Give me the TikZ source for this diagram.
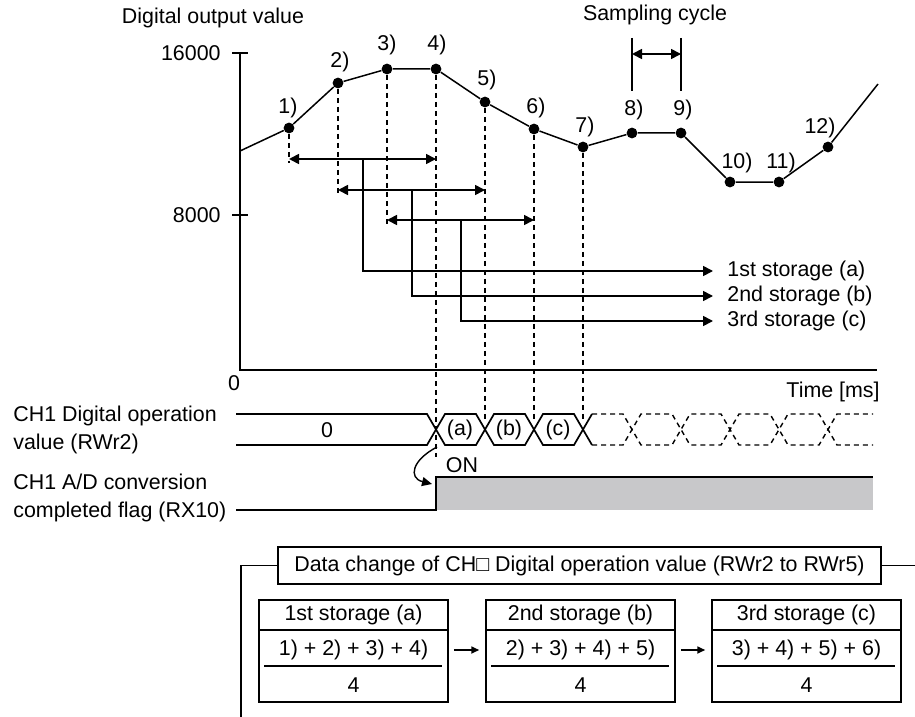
\documentclass[tikz,border=0pt]{standalone}
\usepackage{fontspec}
\setmainfont{Liberation Sans}
\usepackage{xcolor}
\usetikzlibrary{arrows.meta,positioning,calc}
\definecolor{flaggray}{RGB}{200,200,202}

\begin{document}
\begin{tikzpicture}[
  x=0.5pt, y=-0.5pt,
  font=\fontsize{10.7}{14}\selectfont,
  txt/.style={inner sep=0pt},
  dot/.style={circle, fill=black, inner sep=0pt, minimum size=5.4pt},
  ln/.style={line width=0.85pt},
  guide/.style={line width=0.7pt, dash pattern=on 2.5pt off 2pt},
  ar/.style={-{Triangle[length=5pt, width=5pt]}, line width=0.85pt},
  dar/.style={{Triangle[length=5pt, width=5pt]}-{Triangle[length=5pt, width=5pt]}, line width=0.85pt},
  sar/.style={-{Triangle[length=4pt, width=3.5pt]}, line width=0.8pt},
  store/.style={inner xsep=7pt, inner ysep=0pt, anchor=west},
  head/.style={draw, line width=0.75pt, minimum width=94.5pt, minimum height=15pt, inner sep=0pt},
  body/.style={draw, line width=0.75pt, minimum width=94.5pt, minimum height=36pt, inner sep=0pt},
]
\useasboundingbox (0,0) rectangle (915,717);

% axes
\coordinate (o) at (240,370);
\draw[ln] (240,53) -- (o) -- (877,370);
\draw[ln] (232,53) -- (248,53);
\draw[ln] (232,215) -- (248,215);
\node[txt, anchor=east] (y16) at (221,53) {16000};
\node[txt, anchor=east] (y8) at (221,215) {8000};
\node[txt] (y0) at (234,383) {0};
\node[txt] (ytitle) at (213,18) {Digital output value};
\node[txt, anchor=east] (xtitle) at (880,392) {Time [ms]};

% sampled values
\coordinate (p0) at (240,151);
\node[dot] (p1) at (289,128) {};
\node[dot] (p2) at (338,83) {};
\node[dot] (p3) at (387,69) {};
\node[dot] (p4) at (436,69) {};
\node[dot] (p5) at (485,102) {};
\node[dot] (p6) at (534,129) {};
\node[dot] (p7) at (583,147) {};
\node[dot] (p8) at (632,133) {};
\node[dot] (p9) at (681,133) {};
\node[dot] (p10) at (730,182) {};
\node[dot] (p11) at (779,182) {};
\node[dot] (p12) at (828,147) {};
\coordinate (pe) at (878,84);
\draw[line width=0.75pt] (p0) -- (p1) -- (p2) -- (p3) -- (p4) -- (p5) -- (p6) -- (p7)
  -- (p8) -- (p9) -- (p10) -- (p11) -- (p12) -- (pe);
\node[txt] (l1) at (288,108) {1)};
\node[txt] (l2) at (340,62) {2)};
\node[txt] (l3) at (387,45) {3)};
\node[txt] (l4) at (437,45) {4)};
\node[txt] (l5) at (487,80) {5)};
\node[txt] (l6) at (536,108) {6)};
\node[txt] (l7) at (585,127) {7)};
\node[txt] (l8) at (634,110) {8)};
\node[txt] (l9) at (683,110) {9)};
\node[txt] (l10) at (737,163) {10)};
\node[txt] (l11) at (781,163) {11)};
\node[txt] (l12) at (820,128) {12)};

% sampling cycle
\node[txt] (scyc) at (655,15) {Sampling cycle};
\draw[ln] (p8 |- 0,38) -- (p8 |- 0,91);
\draw[ln] (p9 |- 0,38) -- (p9 |- 0,91);
\draw[dar] (p8 |- 0,54) -- (p9 |- 0,54);

% dashed guides
\draw[guide] (p1) -- (p1 |- 0,163);
\draw[guide] (p2) -- (p2 |- 0,194);
\draw[guide] (p3) -- (p3 |- 0,225);
\draw[guide] (p4) -- (p4 |- 0,457);
\draw[guide] (p5) -- (p5 |- 0,422);
\draw[guide] (p6) -- (p6 |- 0,422);
\draw[guide] (p7) -- (p7 |- 0,422);

% moving average windows
\draw[dar] (p1 |- 0,159) -- (p4 |- 0,159);
\draw[dar] (p2 |- 0,190) -- (p5 |- 0,190);
\draw[dar] (p3 |- 0,220) -- (p6 |- 0,220);
\coordinate (m1) at (363,159);
\coordinate (m2) at (412,190);
\coordinate (m3) at (461,220);
\node[store] (st1) at (713,271) {1st storage (a)};
\node[store] (st2) at (713,296) {2nd storage (b)};
\node[store] (st3) at (713,321) {3rd storage (c)};
\draw[ar] (m1) |- (st1.west);
\draw[ar] (m2) |- (st2.west);
\draw[ar] (m3) |- (st3.west);

% CH1 digital operation value
\node[txt, anchor=west, align=left] (sig1) at (13,430) {CH1 Digital operation\\value (RWr2)};
\draw[ln] (236,414) -- (427,414) -- (445,445) -- (476,445) -- (494,414) -- (525,414)
  -- (543,445) -- (574,445) -- (592,414);
\draw[ln] (236,445) -- (427,445) -- (445,414) -- (476,414) -- (494,445) -- (525,445)
  -- (543,414) -- (574,414) -- (592,445);
\draw[guide] (592,414) -- (623,414) -- (641,445) -- (672,445) -- (690,414) -- (721,414)
  -- (739,445) -- (770,445) -- (788,414) -- (819,414) -- (837,445) -- (873,445);
\draw[guide] (592,445) -- (623,445) -- (641,414) -- (672,414) -- (690,445) -- (721,445)
  -- (739,414) -- (770,414) -- (788,445) -- (819,445) -- (837,414) -- (873,414);
\node[txt] (v0) at (327,430) {0};
\node[txt] (va) at (460,430) {(a)};
\node[txt] (vb) at (509,430) {(b)};
\node[txt] (vc) at (558,430) {(c)};

% CH1 A/D conversion completed flag
\node[txt, anchor=west, align=left] (sig2) at (13,498) {CH1 A/D conversion\\completed flag (RX10)};
\fill[flaggray] (436,477) rectangle (873,510);
\draw[ln] (236,510) -- (436,510) -- (436,477) -- (873,477);
\node[txt] (on) at (462,465) {ON};
\coordinate (x4) at (437,447);
\coordinate (rise) at (432,484);
\draw[-{Triangle[length=5pt, width=4.5pt]}, line width=0.7pt] (x4) .. controls (412,460) and (408,478) .. (rise);

% data change of digital operation value
\node[draw, line width=0.75pt, minimum width=301.5pt, minimum height=18.5pt, inner sep=0pt] (dc) at (579.5,565.5)
  {Data change of CH□ Digital operation value (RWr2 to RWr5)};
\draw[ln] (dc.west) -| (241,717);
\draw[ln] (dc.east) -- (915,565.5);

\node[head] (h1) at (353.5,615) {1st storage (a)};
\node[head] (h2) at (580.5,615) {2nd storage (b)};
\node[head] (h3) at (806.5,615) {3rd storage (c)};
\node[body] (f1) at (353.5,666) {};
\node[body] (f2) at (580.5,666) {};
\node[body] (f3) at (806.5,666) {};
\node[txt] (n1) at (353.5,650) {1) + 2) + 3) + 4)};
\node[txt] (n2) at (580.5,650) {2) + 3) + 4) + 5)};
\node[txt] (n3) at (806.5,650) {3) + 4) + 5) + 6)};
\node[txt] (d1) at (353.5,685) {4};
\node[txt] (d2) at (580.5,685) {4};
\node[txt] (d3) at (806.5,685) {4};
\draw[line width=0.75pt] ([xshift=3pt]f1.west) -- ([xshift=-3.5pt]f1.east);
\draw[line width=0.75pt] ([xshift=3pt]f2.west) -- ([xshift=-3.5pt]f2.east);
\draw[line width=0.75pt] ([xshift=3pt]f3.west) -- ([xshift=-3.5pt]f3.east);
\draw[sar, shorten <=2.5pt, shorten >=3pt] (f1.east |- n1) -- (f2.west |- n2);
\draw[sar, shorten <=2.5pt, shorten >=3pt] (f2.east |- n2) -- (f3.west |- n3);
\end{tikzpicture}
\end{document}
